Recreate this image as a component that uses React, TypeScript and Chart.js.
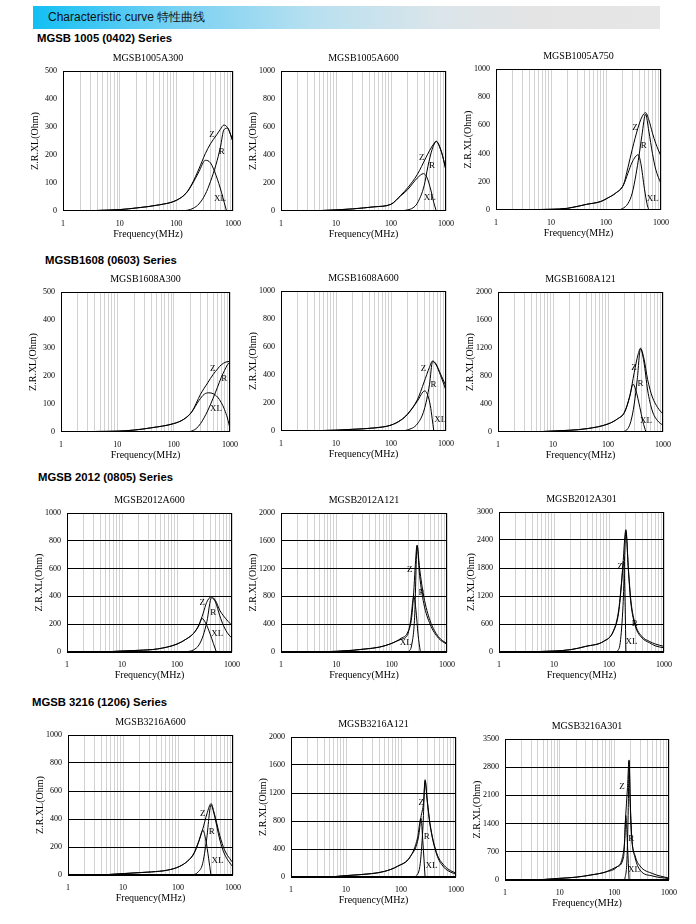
import React, { useEffect, useRef } from "react";
import { Chart, registerables } from "chart.js";

Chart.register(...registerables);

type P = [number, number];
type Tag = [string, number, number];

const SERIF = '"Liberation Serif", "Times New Roman", serif';
const SANS = '"Liberation Sans", Arial, sans-serif';

// x axis (log, MHz)
const X_LABELS = [1, 10, 100, 1000];
const X_GRID = [1, 2, 3, 4, 5, 6, 7, 8, 9, 10, 20, 30, 40, 50, 60, 70, 80, 90, 100, 200, 300, 400, 500, 600, 700, 800, 900, 1000];

// ---------- MGSB1005A300 ----------
const A1005A300_Z: P[] = [[4, 2], [10, 5], [20, 11], [50, 22], [100, 38], [150, 65], [190, 98], [250, 150], [325, 205], [400, 240], [515, 272], [600, 292], [690, 307], [800, 298], [900, 275], [1000, 247]];
const A1005A300_R: P[] = [[120, 0], [160, 3], [200, 10], [250, 25], [325, 60], [400, 105], [500, 165], [600, 228], [690, 290], [800, 296], [900, 274], [1000, 246]];
const A1005A300_XL: P[] = [[4, 2], [10, 5], [20, 11], [50, 22], [100, 38], [150, 64], [190, 95], [250, 140], [325, 181], [400, 172], [500, 128], [630, 65], [700, 30], [770, 0]];
const A1005A300_TAGS: Tag[] = [["Z", 424, 273], ["R", 630, 213], ["XL", 590, 44]];

// ---------- MGSB1005A600 ----------
const A1005A600_Z: P[] = [[5, 3], [10, 8], [20, 15], [50, 30], [100, 48], [150, 112], [200, 165], [300, 260], [430, 380], [500, 430], [600, 480], [666, 499], [800, 440], [900, 370], [1000, 290]];
const A1005A600_R: P[] = [[150, 0], [200, 8], [250, 22], [300, 55], [400, 180], [470, 320], [560, 440], [666, 495], [800, 438], [900, 368], [1000, 288]];
const A1005A600_XL: P[] = [[5, 3], [10, 8], [20, 15], [50, 30], [100, 48], [150, 108], [200, 152], [300, 235], [390, 267], [450, 240], [530, 150], [600, 60], [666, 0]];
const A1005A600_TAGS: Tag[] = [["Z", 362, 380], ["R", 558, 322], ["XL", 507, 93]];

// ---------- MGSB1005A750 ----------
const A1005A750_Z: P[] = [[4.3, 3], [10, 5], [20, 12], [44, 40], [80, 60], [105, 83], [150, 120], [208, 180], [250, 300], [300, 430], [380, 580], [450, 660], [525, 690], [600, 640], [700, 545], [800, 474], [1000, 380]];
const A1005A750_R: P[] = [[170, 0], [200, 10], [250, 45], [300, 120], [350, 250], [400, 390], [450, 530], [525, 680], [600, 560], [700, 400], [800, 290], [1000, 185]];
const A1005A750_XL: P[] = [[4.3, 3], [10, 5], [20, 12], [44, 40], [80, 60], [105, 83], [150, 120], [208, 178], [250, 260], [300, 340], [385, 392], [430, 330], [500, 150], [560, 40], [600, 0]];
const A1005A750_TAGS: Tag[] = [["Z", 337, 585], ["R", 486, 455], ["XL", 710, 83]];

// ---------- MGSB1608A300 ----------
const A1608A300_Z: P[] = [[4.2, 2], [10, 3], [20, 7], [40, 15], [100, 30], [150, 45], [210, 72], [300, 135], [400, 175], [500, 205], [600, 225], [700, 240], [850, 250], [1000, 252]];
const A1608A300_R: P[] = [[180, 0], [200, 2], [250, 12], [300, 30], [400, 75], [500, 120], [600, 160], [700, 195], [800, 220], [900, 240], [1000, 250]];
const A1608A300_XL: P[] = [[4.2, 2], [10, 3], [20, 7], [40, 15], [100, 30], [150, 45], [210, 72], [280, 112], [350, 135], [420, 140], [500, 137], [600, 125], [700, 105], [800, 80], [900, 50], [1000, 12]];
const A1608A300_TAGS: Tag[] = [["Z", 493, 226], ["R", 790, 190], ["XL", 562, 83]];

// ---------- MGSB1608A600 ----------
const A1608A600_Z: P[] = [[5, 3], [10, 6], [20, 12], [50, 22], [100, 42], [150, 78], [200, 122], [300, 222], [400, 350], [500, 455], [570, 500], [650, 482], [800, 405], [1000, 320]];
const A1608A600_R: P[] = [[150, 0], [200, 8], [300, 50], [400, 150], [500, 330], [570, 495], [650, 478], [800, 395], [1000, 290]];
const A1608A600_XL: P[] = [[5, 3], [10, 6], [20, 12], [50, 22], [100, 42], [150, 76], [200, 118], [300, 212], [410, 286], [460, 262], [520, 180], [560, 90], [600, 0]];
const A1608A600_TAGS: Tag[] = [["Z", 390, 443], ["R", 590, 330], ["XL", 790, 80]];

// ---------- MGSB1608A121 ----------
const A1608A121_Z: P[] = [[5, 3], [10, 14], [20, 25], [42, 48], [100, 115], [150, 190], [200, 287], [250, 520], [300, 850], [350, 1100], [390, 1196], [450, 1050], [525, 750], [640, 500], [800, 350], [1000, 254]];
const A1608A121_R: P[] = [[190, 0], [230, 50], [260, 150], [300, 400], [340, 750], [390, 1190], [450, 1000], [525, 600], [640, 300], [800, 160], [1000, 95]];
const A1608A121_XL: P[] = [[5, 3], [10, 14], [20, 25], [42, 48], [100, 115], [150, 188], [200, 280], [250, 515], [285, 684], [320, 600], [380, 350], [430, 150], [490, 0]];
const A1608A121_TAGS: Tag[] = [["Z", 297, 923], ["R", 390, 694], ["XL", 490, 158]];

// ---------- MGSB2012A600 ----------
const A2012A600_Z: P[] = [[5.4, 2], [10, 7], [20, 12], [44, 22], [100, 57], [150, 95], [200, 134], [250, 195], [300, 280], [345, 356], [423, 397], [500, 370], [600, 300], [700, 260], [850, 220], [1000, 190]];
const A2012A600_R: P[] = [[140, 0], [200, 15], [250, 50], [300, 120], [350, 220], [423, 390], [500, 360], [600, 260], [700, 190], [850, 130], [1000, 100]];
const A2012A600_XL: P[] = [[5.4, 2], [10, 7], [20, 12], [44, 22], [100, 57], [150, 95], [200, 134], [250, 190], [285, 241], [330, 210], [400, 130], [460, 60], [520, 0]];
const A2012A600_TAGS: Tag[] = [["Z", 288, 356], ["R", 455, 280], ["XL", 540, 129]];

// ---------- MGSB2012A121 ----------
const A2012A121_Z: P[] = [[5.3, 3], [10, 10], [20, 25], [33, 43], [60, 70], [97, 120], [150, 200], [192, 273], [230, 500], [250, 850], [265, 1200], [288, 1540], [320, 1200], [380, 800], [495, 450], [700, 220], [1000, 120]];
const A2012A121_R: P[] = [[200, 0], [230, 100], [260, 500], [288, 1520], [320, 1100], [380, 700], [495, 400], [700, 200], [1000, 110]];
const A2012A121_XL: P[] = [[5.3, 3], [10, 10], [20, 25], [33, 43], [60, 70], [97, 120], [150, 185], [192, 240], [220, 450], [251, 800], [275, 600], [300, 250], [330, 0]];
const A2012A121_TAGS: Tag[] = [["Z", 213, 1185], ["R", 345, 858], ["XL", 180, 130]];

// ---------- MGSB2012A301 ----------
const A2012A301_Z: P[] = [[3.3, 5], [10, 21], [20, 50], [38, 121], [80, 229], [120, 450], [150, 900], [175, 1700], [203, 2620], [225, 1800], [250, 1100], [300, 600], [400, 330], [540, 229], [700, 170], [1000, 120]];
const A2012A301_R: P[] = [[140, 0], [160, 200], [180, 1000], [203, 2580], [225, 1750], [250, 1050], [300, 560], [400, 300], [540, 200], [700, 130], [1000, 90]];
const A2012A301_XL: P[] = [[3.3, 5], [10, 21], [20, 50], [38, 121], [80, 229], [120, 440], [150, 850], [170, 1500], [183, 1950], [195, 1200], [203, 0]];
const A2012A301_TAGS: Tag[] = [["Z", 159, 1821], ["R", 293, 600], ["XL", 256, 214]];

// ---------- MGSB3216A600 ----------
const A3216A600_Z: P[] = [[5.2, 3], [10, 10], [20, 17], [33, 22], [65, 35], [105, 60], [150, 100], [194, 155], [240, 245], [283, 330], [335, 436], [400, 510], [450, 450], [577, 280], [700, 180], [1000, 85]];
const A3216A600_R: P[] = [[190, 0], [230, 20], [280, 80], [330, 250], [400, 500], [450, 440], [577, 250], [700, 150], [1000, 55]];
const A3216A600_XL: P[] = [[5.2, 3], [10, 10], [20, 17], [33, 22], [65, 35], [105, 60], [150, 100], [194, 150], [240, 240], [283, 320], [320, 250], [360, 120], [397, 0]];
const A3216A600_TAGS: Tag[] = [["Z", 281, 436], ["R", 410, 310], ["XL", 525, 100]];

// ---------- MGSB3216A121 ----------
const A3216A121_Z: P[] = [[6, 5], [10, 20], [29, 48], [50, 80], [86, 152], [148, 295], [209, 580], [230, 850], [257, 1067], [274, 1390], [300, 1100], [336, 770], [442, 350], [600, 170], [800, 90], [1000, 57]];
const A3216A121_R: P[] = [[180, 0], [220, 150], [250, 700], [274, 1370], [300, 1080], [336, 750], [442, 330], [600, 140], [800, 70], [1000, 40]];
const A3216A121_XL: P[] = [[6, 5], [10, 20], [29, 48], [50, 80], [86, 152], [148, 290], [200, 560], [230, 840], [250, 500], [274, 0]];
const A3216A121_TAGS: Tag[] = [["Z", 233, 1067], ["R", 294, 581], ["XL", 360, 162]];

// ---------- MGSB3216A301 ----------
const A3216A301_Z: P[] = [[4.8, 10], [10, 41], [20, 70], [37, 124], [70, 200], [112, 330], [148, 580], [160, 1500], [174, 2300], [186, 2980], [195, 2000], [208, 1080], [240, 600], [294, 350], [500, 160], [1000, 45]];
const A3216A301_R: P[] = [[155, 0], [170, 500], [180, 1800], [186, 2950], [195, 1900], [208, 1050], [240, 550], [294, 250], [500, 100], [1000, 35]];
const A3216A301_XL: P[] = [[4.8, 10], [10, 41], [20, 70], [37, 124], [70, 200], [112, 325], [140, 550], [155, 1000], [162, 1600], [175, 800], [186, 0]];
const A3216A301_TAGS: Tag[] = [["Z", 138, 2306], ["R", 203, 1028], ["XL", 229, 249]];

// layout table: plot box [left, top, right, bottom] in page px
type Spec = {
  title: string; max: number; step: number; hgrid: boolean;
  z: P[]; r: P[]; xl: P[]; tags: Tag[];
  box: [number, number, number, number]; clipRight?: number;
};

const SPECS: Spec[] = [
  { title: "MGSB1005A300", max: 500, step: 100, hgrid: false, z: A1005A300_Z, r: A1005A300_R, xl: A1005A300_XL, tags: A1005A300_TAGS, box: [63, 71, 237, 211], clipRight: 241 },
  { title: "MGSB1005A600", max: 1000, step: 200, hgrid: false, z: A1005A600_Z, r: A1005A600_R, xl: A1005A600_XL, tags: A1005A600_TAGS, box: [281, 71, 450, 211] },
  { title: "MGSB1005A750", max: 1000, step: 200, hgrid: false, z: A1005A750_Z, r: A1005A750_R, xl: A1005A750_XL, tags: A1005A750_TAGS, box: [496, 69, 665, 210] },
  { title: "MGSB1608A300", max: 500, step: 100, hgrid: false, z: A1608A300_Z, r: A1608A300_R, xl: A1608A300_XL, tags: A1608A300_TAGS, box: [61, 292, 234, 432], clipRight: 241 },
  { title: "MGSB1608A600", max: 1000, step: 200, hgrid: false, z: A1608A600_Z, r: A1608A600_R, xl: A1608A600_XL, tags: A1608A600_TAGS, box: [281, 291, 450, 431] },
  { title: "MGSB1608A121", max: 2000, step: 400, hgrid: false, z: A1608A121_Z, r: A1608A121_R, xl: A1608A121_XL, tags: A1608A121_TAGS, box: [498, 292, 667, 432] },
  { title: "MGSB2012A600", max: 1000, step: 200, hgrid: true, z: A2012A600_Z, r: A2012A600_R, xl: A2012A600_XL, tags: A2012A600_TAGS, box: [67, 513, 236, 652], clipRight: 243 },
  { title: "MGSB2012A121", max: 2000, step: 400, hgrid: true, z: A2012A121_Z, r: A2012A121_R, xl: A2012A121_XL, tags: A2012A121_TAGS, box: [281, 513, 451, 652] },
  { title: "MGSB2012A301", max: 3000, step: 600, hgrid: true, z: A2012A301_Z, r: A2012A301_R, xl: A2012A301_XL, tags: A2012A301_TAGS, box: [499, 512, 668, 652] },
  { title: "MGSB3216A600", max: 1000, step: 200, hgrid: true, z: A3216A600_Z, r: A3216A600_R, xl: A3216A600_XL, tags: A3216A600_TAGS, box: [68, 735, 237, 875] },
  { title: "MGSB3216A121", max: 2000, step: 400, hgrid: true, z: A3216A121_Z, r: A3216A121_R, xl: A3216A121_XL, tags: A3216A121_TAGS, box: [291, 737, 460, 877], clipRight: 467 },
  { title: "MGSB3216A301", max: 3500, step: 700, hgrid: true, z: A3216A301_Z, r: A3216A301_R, xl: A3216A301_XL, tags: A3216A301_TAGS, box: [505, 739, 673, 880] },
];

const Y_AXIS_W = 34;
const X_AXIS_H = 32;
const TITLE_H = 21;
const PAD_R = 12;

function makeConfig(spec: Spec): any {
  const line = (pts: P[]) => ({
    data: pts.map(([x, y]) => ({ x, y })),
    borderColor: "#000",
    borderWidth: 1,
    pointRadius: 0,
    fill: false,
    cubicInterpolationMode: "monotone",
  });
  const frame = {
    id: "frame",
    afterDatasetsDraw(chart: any) {
      const { ctx, chartArea: a } = chart;
      ctx.save();
      ctx.strokeStyle = "#000";
      ctx.lineWidth = 1;
      ctx.strokeRect(Math.round(a.left) + 0.5, Math.round(a.top) + 0.5, Math.round(a.right - a.left) - 1, Math.round(a.bottom - a.top) - 1);
      ctx.restore();
    },
  };
  const tags = {
    id: "curveTags",
    afterDatasetsDraw(chart: any) {
      const { ctx, scales } = chart;
      ctx.save();
      ctx.font = `9px ${SERIF}`;
      ctx.fillStyle = "#000";
      ctx.textAlign = "center";
      ctx.textBaseline = "middle";
      spec.tags.forEach(([t, f, v]) => {
        ctx.fillText(t, scales.x.getPixelForValue(f), scales.y.getPixelForValue(v));
      });
      ctx.restore();
    },
  };
  const tickFont = { family: SERIF, size: 8 };
  const titleFont = { family: SERIF, size: 10 };
  return {
    type: "line",
    data: { datasets: [line(spec.z), line(spec.r), line(spec.xl)] },
    options: {
      animation: false,
      responsive: false,
      devicePixelRatio: 1,
      events: [],
      layout: { padding: { left: 0, right: PAD_R, top: 0, bottom: 0 } },
      plugins: {
        legend: { display: false },
        tooltip: { enabled: false },
        title: {
          display: true,
          text: spec.title,
          fullSize: false,
          color: "#000",
          font: { ...titleFont, weight: "normal" },
          padding: { top: 2, bottom: 7 },
        },
      },
      scales: {
        x: {
          type: "logarithmic",
          min: 1,
          max: 1000,
          afterBuildTicks: (s: any) => {
            s.ticks = X_GRID.map((v) => ({ value: v }));
          },
          afterFit: (s: any) => {
            s.height = X_AXIS_H;
          },
          grid: { color: "#d2d2d2", lineWidth: 1, drawTicks: false },
          border: { display: false },
          ticks: {
            autoSkip: false,
            maxRotation: 0,
            minRotation: 0,
            padding: 8,
            color: "#000",
            font: tickFont,
            callback: (v: any) => (X_LABELS.includes(Number(v)) ? String(v) : ""),
          },
          title: { display: true, text: "Frequency(MHz)", color: "#000", font: titleFont, padding: { top: 0, bottom: 3 } },
        },
        y: {
          type: "linear",
          min: 0,
          max: spec.max,
          afterFit: (s: any) => {
            s.width = Y_AXIS_W;
          },
          grid: { display: spec.hgrid, color: "#000", lineWidth: 1, drawTicks: false },
          border: { display: false },
          ticks: {
            stepSize: spec.step,
            padding: 6,
            color: "#000",
            font: tickFont,
            callback: (v: any) => String(v),
          },
          title: { display: true, text: "Z.R.XL(Ohm)", color: "#000", font: titleFont, padding: 0 },
        },
      },
    },
    plugins: [frame, tags],
  };
}

function CurveChart({ spec }: { spec: Spec }) {
  const ref = useRef<HTMLCanvasElement>(null);
  const [l, t, r, b] = spec.box;
  const left = l - Y_AXIS_W;
  const top = t - TITLE_H;
  const w = r - l + Y_AXIS_W + PAD_R;
  const h = b - t + TITLE_H + X_AXIS_H;
  useEffect(() => {
    const chart = new Chart(ref.current as HTMLCanvasElement, makeConfig(spec));
    return () => chart.destroy();
  }, [spec]);
  const vis = spec.clipRight ? spec.clipRight - left : w;
  return (
    <div style={{ position: "absolute", left, top, width: vis, height: h, overflow: "hidden" }}>
      <canvas ref={ref} width={w} height={h} style={{ display: "block", width: w, height: h }} />
    </div>
  );
}

const HEAD = "Characteristic curve 特性曲线";
const SERIES: [string, number, number][] = [
  ["MGSB 1005 (0402) Series", 37, 38],
  ["MGSB1608 (0603) Series", 45, 260],
  ["MGSB 2012 (0805) Series", 38, 477],
  ["MGSB 3216 (1206) Series", 32, 702],
];

export default function App() {
  return (
    <div style={{ position: "absolute", left: 0, top: 0, width: 696, height: 924, background: "#fff", overflow: "hidden" }}>
      <div
        style={{
          position: "absolute",
          left: 33,
          top: 6,
          width: 627,
          height: 23,
          background: "linear-gradient(to right, #13bff3 0%, #74d0f3 22%, #b9e0f0 45%, #dbe5ea 65%, #e4e4e4 80%, #e6e6e6 100%)",
        }}
      >
        <span style={{ position: "absolute", left: 15, top: 0, lineHeight: "23px", fontFamily: SANS, fontSize: 12, color: "#111" }}>{HEAD}</span>
      </div>
      {SERIES.map(([text, x, y]) => (
        <div key={text} style={{ position: "absolute", left: x, top: y - 7, lineHeight: "14px", fontFamily: SANS, fontWeight: "bold", fontSize: 11.3, color: "#000", whiteSpace: "nowrap" }}>
          {text}
        </div>
      ))}
      {SPECS.map((s) => (
        <CurveChart key={s.title} spec={s} />
      ))}
    </div>
  );
}
